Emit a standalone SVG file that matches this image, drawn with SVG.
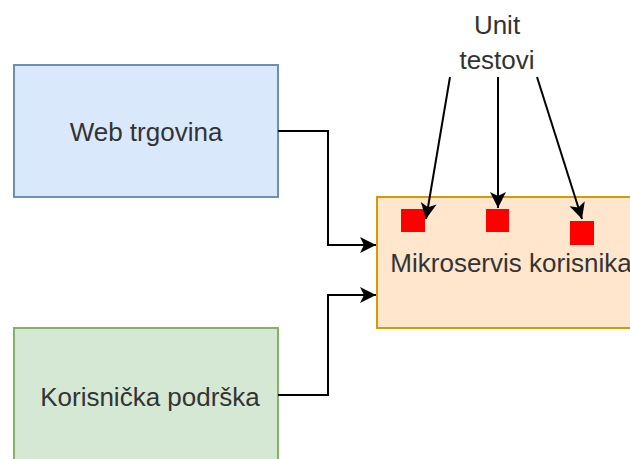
<svg xmlns="http://www.w3.org/2000/svg" width="630" height="459" viewBox="0 0 630 459">
<defs>
<style>
.lbl{font-family:"Liberation Sans",Arial,Helvetica,sans-serif;font-size:26px;fill:#333333;text-anchor:middle}
.edge{fill:none;stroke:#000000;stroke-width:2}
.sq{fill:#ff0000;stroke:none}
</style>
<marker id="arr" markerUnits="userSpaceOnUse" markerWidth="18" markerHeight="18" viewBox="0 0 18 18" refX="17" refY="9" orient="auto">
<path d="M1,1 L17,9 L1,17 L5,9 Z" fill="#000000"/>
</marker>
</defs>
<rect width="630" height="459" fill="#ffffff"/>
<g id="web-trgovina">
<rect x="14" y="65" width="264" height="132" fill="#dae8fc" stroke="#6c8ebf" stroke-width="2"/>
<text class="lbl" x="146" y="141">Web trgovina</text>
</g>
<g id="korisnicka-podrska">
<rect x="14" y="328" width="264" height="140" fill="#d5e8d4" stroke="#82b366" stroke-width="2"/>
<text class="lbl" x="150" y="406">Korisnička podrška</text>
</g>
<g id="mikroservis">
<rect x="377" y="197" width="268" height="131" fill="#ffe6cc" stroke="#d79b00" stroke-width="2"/>
<text class="lbl" x="511" y="272">Mikroservis korisnika</text>
</g>
<g id="unit-1"><rect class="sq" x="401" y="209" width="24" height="23"/></g>
<g id="unit-2"><rect class="sq" x="486" y="209" width="23" height="23"/></g>
<g id="unit-3"><rect class="sq" x="570" y="221" width="24" height="24"/></g>
<g id="unit-testovi">
<text class="lbl" x="497" y="34">Unit</text>
<text class="lbl" x="497" y="69">testovi</text>
</g>
<g id="connectors">
<path class="edge" d="M278,131 L328,131 L328,245 L376,245" marker-end="url(#arr)"/>
<path class="edge" d="M278,395 L328,395 L328,295 L376,295" marker-end="url(#arr)"/>
<path class="edge" d="M450,77 L426,219" marker-end="url(#arr)"/>
<path class="edge" d="M498,77 L498,208" marker-end="url(#arr)"/>
<path class="edge" d="M537,77 L582,219" marker-end="url(#arr)"/>
</g>
</svg>
